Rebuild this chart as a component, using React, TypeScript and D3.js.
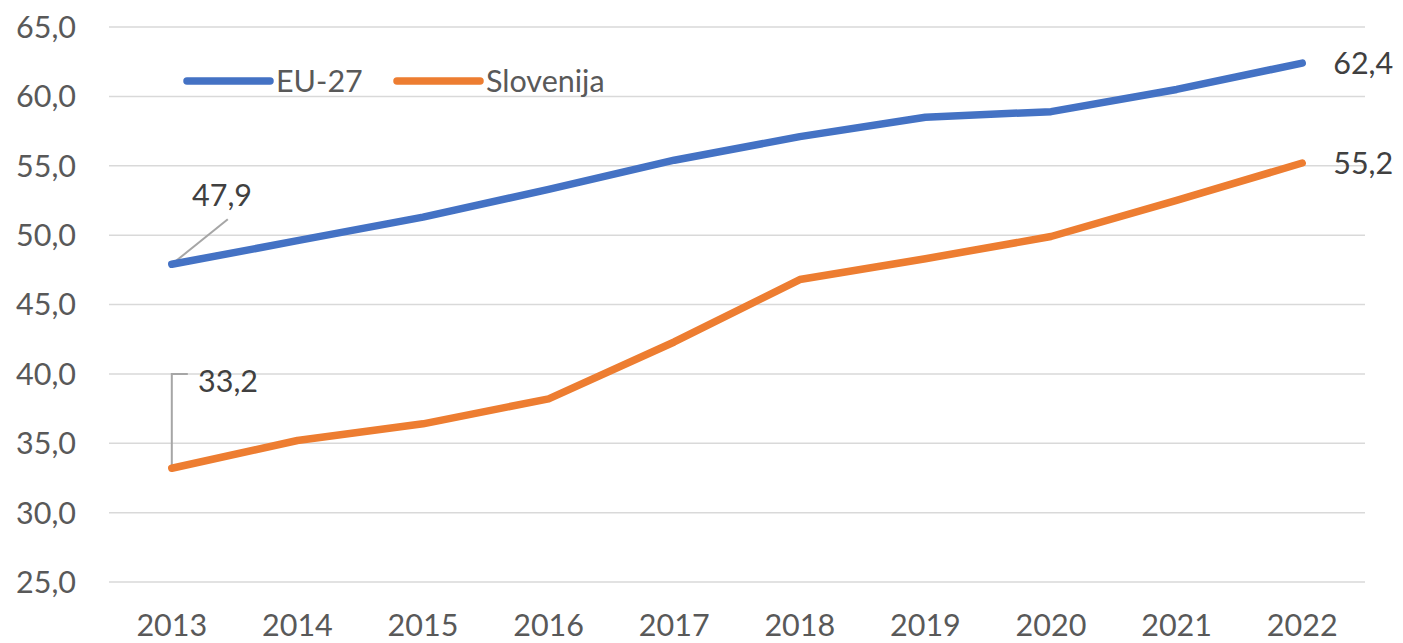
import React, { useEffect, useRef } from 'react';
import * as d3 from 'd3';

const years = ['2013', '2014', '2015', '2016', '2017', '2018', '2019', '2020', '2021', '2022'];
const eu27 = [47.9, 49.6, 51.3, 53.3, 55.4, 57.1, 58.5, 58.9, 60.5, 62.4];
const slovenija = [33.2, 35.2, 36.4, 38.2, 42.3, 46.8, 48.3, 49.9, 52.5, 55.2];
const yTicks = [25, 30, 35, 40, 45, 50, 55, 60, 65];
const seriesNames = ['EU-27', 'Slovenija'];

const W = 1403;
const H = 643;
const FONT = 'Lato, "Open Sans", sans-serif';
const TEXT = '#595959';
const FS = 30.5;
const fmt = (v: number) => v.toFixed(1).replace('.', ',');

const App = () => {
  const svgRef = useRef<SVGSVGElement>(null);

  useEffect(() => {
    const svg = d3.select(svgRef.current).attr('width', W).attr('height', H);
    svg.selectAll('*').remove();

    const x = d3.scaleBand().domain(years).range([109, 1365]).paddingInner(0).paddingOuter(0);
    const y = d3.scaleLinear().domain([25, 65]).range([582, 27]);
    const cx = (d: string) => (x(d) as number) + x.bandwidth() / 2;

    // gridlines
    svg.append('g')
      .selectAll('line')
      .data(yTicks)
      .join('line')
      .attr('x1', 109)
      .attr('x2', 1365)
      .attr('y1', d => y(d))
      .attr('y2', d => y(d))
      .attr('stroke', '#d9d9d9')
      .attr('stroke-width', 1.5);

    // y labels
    svg.append('g')
      .selectAll('text')
      .data(yTicks)
      .join('text')
      .attr('x', 76)
      .attr('y', d => y(d))
      .attr('dy', '0.36em')
      .attr('text-anchor', 'end')
      .attr('font-family', FONT)
      .attr('font-size', FS)
      .attr('fill', TEXT)
      .text(d => fmt(d));

    // x labels
    svg.append('g')
      .selectAll('text')
      .data(years)
      .join('text')
      .attr('x', d => cx(d))
      .attr('y', 636)
      .attr('text-anchor', 'middle')
      .attr('font-family', FONT)
      .attr('font-size', FS)
      .attr('fill', TEXT)
      .text(d => d);

    const colors = ['#4472C4', '#ED7D31'];
    const series = [eu27, slovenija];

    const line = d3.line<number>()
      .x((_, i) => cx(years[i]))
      .y(d => y(d));

    // leader lines for first labels
    const x0 = cx(years[0]);
    svg.append('path')
      .attr('d', `M${x0},${y(eu27[0])}L${x0 + 56},${y(eu27[0]) - 45}`)
      .attr('stroke', '#a6a6a6')
      .attr('stroke-width', 2)
      .attr('fill', 'none');
    svg.append('path')
      .attr('d', `M${x0},${y(slovenija[0])}V${374}H${x0 + 16}`)
      .attr('stroke', '#a6a6a6')
      .attr('stroke-width', 2)
      .attr('fill', 'none');

    series.forEach((s, k) => {
      svg.append('path')
        .datum(s)
        .attr('d', line)
        .attr('fill', 'none')
        .attr('stroke', colors[k])
        .attr('stroke-width', 7.5)
        .attr('stroke-linecap', 'round')
        .attr('stroke-linejoin', 'round');
    });

    // data labels
    const labels = [
      { v: eu27[0], x: 192, y: 195 },
      { v: slovenija[0], x: 198, y: 381 },
      { v: eu27[eu27.length - 1], x: cx(years[9]) + 31, y: y(eu27[9]) },
      { v: slovenija[slovenija.length - 1], x: cx(years[9]) + 31, y: y(slovenija[9]) },
    ];
    svg.append('g')
      .selectAll('text')
      .data(labels)
      .join('text')
      .attr('x', d => d.x)
      .attr('y', d => d.y)
      .attr('dy', '0.36em')
      .attr('font-family', FONT)
      .attr('font-size', FS)
      .attr('fill', '#404040')
      .text(d => fmt(d.v));

    // legend
    const legendX = [187, 397];
    const legend = svg.append('g');
    seriesNames.forEach((name, k) => {
      legend.append('line')
        .attr('x1', legendX[k])
        .attr('x2', legendX[k] + 83)
        .attr('y1', 81)
        .attr('y2', 81)
        .attr('stroke', colors[k])
        .attr('stroke-width', 7.5)
        .attr('stroke-linecap', 'round');
      legend.append('text')
        .attr('x', legendX[k] + 89)
        .attr('y', 81)
        .attr('dy', '0.36em')
        .attr('font-family', FONT)
        .attr('font-size', FS)
        .attr('fill', TEXT)
        .text(name);
    });
  }, []);

  return (
    <div style={{ position: 'absolute', left: 0, top: 0, width: W, height: H, background: '#fff' }}>
      <svg ref={svgRef} style={{ display: 'block' }} />
    </div>
  );
};

export default App;
